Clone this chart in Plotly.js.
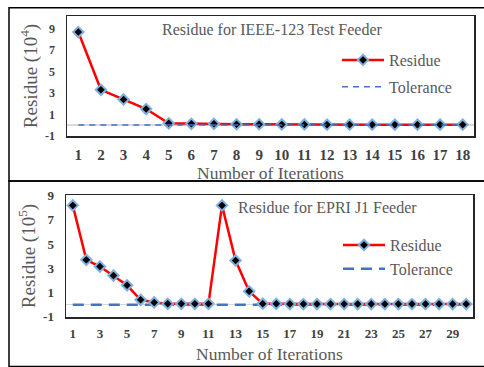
<!DOCTYPE html>
<html>
<head>
<meta charset="utf-8">
<script src="https://cdn.plot.ly/plotly-3.0.1.min.js"></script>
<style>html,body{margin:0;padding:0;background:#fff;}#chart{width:484px;height:367px;}</style>
</head>
<body>
<div id="chart"></div>
<script>
// Top panel: IEEE-123 Test Feeder
const iterTop = [1,2,3,4,5,6,7,8,9,10,11,12,13,14,15,16,17,18];
const residueTop = [8.7,3.3,2.4,1.5,0.17,0.12,0.12,0.08,0.08,0.06,0.06,0.04,0.04,0.04,0.04,0.04,0.04,0.04];
const toleranceTop = [0,0,0,0,0,0,0,0,0,0,0,0,0,0,0,0,0,0];
const yTicksTop = [-1,1,3,5,7,9];

// Bottom panel: EPRI J1 Feeder
const iterBot = [1,2,3,4,5,6,7,8,9,10,11,12,13,14,15,16,17,18,19,20,21,22,23,24,25,26,27,28,29,30];
const residueBot = [8.2,3.7,3.15,2.4,1.6,0.4,0.18,0.07,0.07,0.07,0.07,8.2,3.65,1.1,0.08,0.07,0.05,0.05,0.05,0.05,0.05,0.05,0.05,0.05,0.05,0.05,0.05,0.05,0.05,0.05];
const toleranceBot = [0,0,0,0,0,0,0,0,0,0,0,0,0,0,0,0,0,0,0,0,0,0,0,0,0,0,0,0,0,0];
const xTicksBot = [1,3,5,7,9,11,13,15,17,19,21,23,25,27,29];
const yTicksBot = [-1,1,3,5,7,9];

const titleTop = 'Residue for IEEE-123 Test Feeder';
const titleBot = 'Residue for EPRI J1 Feeder';

const W = 484, H = 367;
const px = v => v / W;
const py = v => (H - v) / H;

const serif = 'Liberation Serif, Times New Roman, serif';
const markerStyle = {symbol:'diamond', size:8, color:'#000', line:{color:'#7fb0e0', width:2}};

const traces = [
  {x: iterTop, y: residueTop, name:'Residue', type:'scatter', mode:'lines+markers',
   line:{color:'#ff0000', width:2.5}, marker: markerStyle, xaxis:'x', yaxis:'y',
   legend:'legend', legendgroup:'a'},
  {x: iterTop, y: toleranceTop, name:'Tolerance', type:'scatter', mode:'lines',
   line:{color:'#4472c4', width:1.5, dash:'6px,5px'}, xaxis:'x', yaxis:'y',
   legend:'legend', legendgroup:'b'},
  {x: iterBot, y: toleranceBot, name:'Tolerance', type:'scatter', mode:'lines',
   line:{color:'#4472c4', width:2.5, dash:'11px,7px'}, xaxis:'x2', yaxis:'y2',
   legend:'legend2', legendgroup:'d', legendrank:2},
  {x: iterBot, y: residueBot, name:'Residue', type:'scatter', mode:'lines+markers',
   line:{color:'#ff0000', width:2.5}, marker: markerStyle, xaxis:'x2', yaxis:'y2',
   legend:'legend2', legendgroup:'c', legendrank:1}
];

const titleFont = {family: serif, size: 17.5, color:'#595959'};

function xax(domain, anchor, tickvals, range, fs, tstand) {
  return {domain, anchor, range, tickvals, ticktext: tickvals.map(String),
    showgrid:false, zeroline:false, showline:true, mirror:true,
    linecolor:'#262626', linewidth:1.5, ticks:'', ticklabelstandoff:4,
    tickfont: {family: serif, size: fs, color:'#404040', weight:'bold'}, fixedrange:true,
    title:{text:'Number of Iterations', font:titleFont, standoff:tstand}};
}
function yax(domain, anchor, tickvals, range, exp, fs) {
  return {domain, anchor, range, tickvals, ticktext: tickvals.map(String),
    showgrid:false, zeroline:true, zerolinecolor:'#d9d9d9', zerolinewidth:1.5,
    showline:true, mirror:true, linecolor:'#262626', linewidth:1.5,
    ticks:'', ticklabelstandoff:8, tickfont: {family: serif, size: fs, color:'#404040', weight:'bold'}, fixedrange:true,
    title:{text:'Residue (10<sup>' + exp + '</sup>)', font:{family: serif, size:19, color:'#595959'}, standoff:2}};
}

const legendBase = {font:{family: serif, size:16, color:'#595959'}, bgcolor:'rgba(0,0,0,0)',
  xanchor:'left', yanchor:'top', traceorder:'grouped', itemwidth:42, itemclick:false, itemdoubleclick:false};

const layout = {
  width: W, height: H,
  margin:{l:0, r:0, t:0, b:0},
  paper_bgcolor:'#fff', plot_bgcolor:'#fff',
  showlegend:true,
  xaxis: xax([px(67), px(474)], 'y', iterTop, [0.5, 18.5], 15, 0),
  yaxis: yax([py(136), py(16)], 'x', yTicksTop, [-1.02, 10.2], 4, 12),
  xaxis2: xax([px(66), px(473)], 'y2', xTicksBot, [0.5, 30.5], 13, 7),
  yaxis2: yax([py(317), py(195)], 'x2', yTicksBot, [-1.02, 9.06], 5, 13),
  legend: Object.assign({}, legendBase, {x: px(337), y: py(43), tracegroupgap:3}),
  legend2: Object.assign({}, legendBase, {x: px(338), y: py(228), tracegroupgap:0}),
  annotations: [
    {text: titleTop, xref:'paper', yref:'paper', x: px(272), y: py(30), xanchor:'center', yanchor:'middle', showarrow:false,
     font:{family: serif, size:16, color:'#595959'}},
    {text: titleBot, xref:'paper', yref:'paper', x: px(327), y: py(207), xanchor:'center', yanchor:'middle', showarrow:false,
     font:{family: serif, size:16, color:'#595959'}}
  ],
  shapes: [
    {type:'rect', xref:'paper', yref:'paper', x0: px(9), x1: px(492), y0: py(181), y1: py(7.7),
     line:{color:'#000', width:1.5}},
    {type:'rect', xref:'paper', yref:'paper', x0: px(9), x1: px(492), y0: py(366.5), y1: py(181),
     line:{color:'#000', width:1.5}}
  ]
};

Plotly.newPlot('chart', traces, layout, {staticPlot:true, displayModeBar:false});
</script>
</body>
</html>
